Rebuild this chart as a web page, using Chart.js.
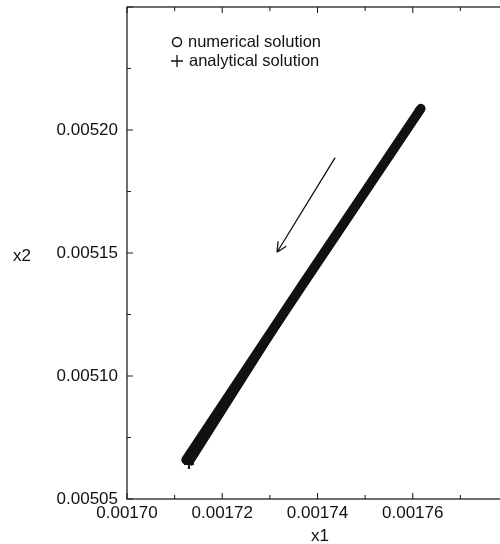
<!DOCTYPE html>
<html>
<head>
<meta charset="utf-8">
<script src="https://cdn.jsdelivr.net/npm/chart.js@4.4.0/dist/chart.umd.min.js"></script>
<style>
  html, body { margin: 0; padding: 0; background: #fff; overflow: hidden; }
  #wrap { width: 500px; height: 544px; overflow: hidden; }
</style>
</head>
<body>
<div id="wrap"><canvas id="phaseChart" width="520" height="544"></canvas></div>
<script>
// Data (x1, x2)
const numericalX1 = [0.0017124, 0.0017370, 0.0017617];
const numericalX2 = [0.0050659, 0.0051375, 0.0052087];
const analyticalX1 = [0.0017130, 0.0017370, 0.0017615];
const analyticalX2 = [0.0050642, 0.0051375, 0.0052085];
// direction arrow
const arrowFrom = [0.0017437, 0.0051888];
const arrowTo = [0.0017315, 0.0051503];
// axis ticks
const xTickLabels = ["0.00170", "0.00172", "0.00174", "0.00176"];
const yTickLabels = ["0.00505", "0.00510", "0.00515", "0.00520"];
const legendLabels = ["numerical solution", "analytical solution"];

const FONT = '"Liberation Sans", Arial, Helvetica, sans-serif';
const INK = "#111";

const toPoints = (xs, ys) => xs.map((v, i) => ({ x: v, y: ys[i] }));

// frame, inward ticks, arrow, legend and axis titles
const framePlugin = {
  id: "framePlugin",
  afterDraw(chart) {
    const { ctx, chartArea: a, scales: { x, y } } = chart;
    ctx.save();
    ctx.strokeStyle = "#222";
    ctx.lineWidth = 1.3;
    ctx.strokeRect(a.left, a.top, a.right - a.left, a.bottom - a.top);

    ctx.lineWidth = 1.1;
    x.ticks.forEach((t) => {
      const px = x.getPixelForValue(t.value);
      const len = Math.round(t.value * 1e5) % 2 === 0 ? 6 : 4;
      ctx.beginPath();
      ctx.moveTo(px, a.bottom); ctx.lineTo(px, a.bottom - len);
      ctx.moveTo(px, a.top); ctx.lineTo(px, a.top + len);
      ctx.stroke();
    });
    y.ticks.forEach((t) => {
      const py = y.getPixelForValue(t.value);
      const len = Math.round(t.value / 0.000025) % 2 === 0 ? 6 : 4;
      ctx.beginPath();
      ctx.moveTo(a.left, py); ctx.lineTo(a.left + len, py);
      ctx.moveTo(a.right, py); ctx.lineTo(a.right - len, py);
      ctx.stroke();
    });

    // arrow
    const x0 = x.getPixelForValue(arrowFrom[0]), y0 = y.getPixelForValue(arrowFrom[1]);
    const x1 = x.getPixelForValue(arrowTo[0]), y1 = y.getPixelForValue(arrowTo[1]);
    const ang = Math.atan2(y1 - y0, x1 - x0);
    ctx.strokeStyle = INK;
    ctx.lineWidth = 1.3;
    ctx.beginPath();
    ctx.moveTo(x0, y0); ctx.lineTo(x1, y1);
    [0.45, -0.45].forEach((d) => {
      ctx.moveTo(x1, y1);
      ctx.lineTo(x1 - 11 * Math.cos(ang + d), y1 - 11 * Math.sin(ang + d));
    });
    ctx.stroke();

    // legend inside plot
    const lx = a.left + 50;
    ctx.fillStyle = INK;
    ctx.font = "16.5px " + FONT;
    ctx.textBaseline = "middle";
    ctx.textAlign = "left";
    ctx.lineWidth = 1.5;
    ctx.beginPath();
    ctx.arc(lx, a.top + 35, 4.5, 0, Math.PI * 2);
    ctx.stroke();
    ctx.fillText(legendLabels[0], lx + 11, a.top + 35);
    ctx.lineWidth = 1.3;
    ctx.beginPath();
    ctx.moveTo(lx - 6, a.top + 54); ctx.lineTo(lx + 6, a.top + 54);
    ctx.moveTo(lx, a.top + 48); ctx.lineTo(lx, a.top + 60);
    ctx.stroke();
    ctx.fillText(legendLabels[1], lx + 12, a.top + 54);

    // axis titles
    ctx.font = "17px " + FONT;
    ctx.textAlign = "center";
    ctx.fillText("x1", (a.left + 513) / 2, 536);
    ctx.fillText("x2", 22, y.getPixelForValue(0.0051485));
    ctx.restore();
  },
};

new Chart(document.getElementById("phaseChart").getContext("2d"), {
  type: "scatter",
  data: {
    datasets: [
      {
        label: legendLabels[0],
        data: toPoints(numericalX1, numericalX2),
        showLine: true,
        borderColor: INK,
        backgroundColor: INK,
        borderWidth: 9.5,
        borderCapStyle: "round",
        pointStyle: "circle",
        pointRadius: 3.8,
        pointBorderWidth: 1,
      },
      {
        label: legendLabels[1],
        data: toPoints(analyticalX1, analyticalX2),
        showLine: true,
        borderColor: INK,
        backgroundColor: INK,
        borderWidth: 7,
        pointStyle: "cross",
        pointRadius: 5,
        pointBorderWidth: 2,
      },
    ],
  },
  options: {
    responsive: false,
    animation: false,
    layout: { padding: { top: 5, right: 12, left: 0, bottom: 0 } },
    plugins: {
      legend: { display: false },
      tooltip: { enabled: false },
    },
    scales: {
      x: {
        type: "linear",
        min: 0.0017,
        max: 0.00178,
        grid: { display: false, drawTicks: false },
        border: { display: false },
        afterFit: (s) => { s.height = 45; s.paddingLeft = 0; s.paddingRight = 0; },
        ticks: {
          stepSize: 0.00001,
          autoSkip: false,
          maxRotation: 0,
          padding: 4,
          color: INK,
          font: { family: FONT, size: 17 },
          callback: (v) => {
            const s = Number(v).toFixed(5);
            return xTickLabels.includes(s) ? s : "";
          },
        },
      },
      y: {
        type: "linear",
        min: 0.00505,
        max: 0.00525,
        grid: { display: false, drawTicks: false },
        border: { display: false },
        afterFit: (s) => { s.width = 127; s.paddingTop = 0; s.paddingBottom = 0; },
        ticks: {
          stepSize: 0.000025,
          autoSkip: false,
          padding: 9,
          color: INK,
          font: { family: FONT, size: 17 },
          callback: (v) => {
            const s = Number(v).toFixed(5);
            return yTickLabels.includes(s) ? s : "";
          },
        },
      },
    },
  },
  plugins: [framePlugin],
});
</script>
</body>
</html>
